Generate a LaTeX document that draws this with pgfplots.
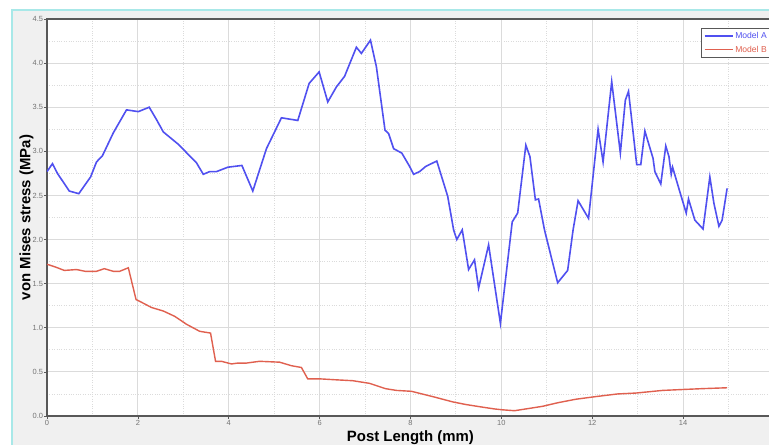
\documentclass[border=0pt]{standalone}
\usepackage{pgfplots}
\pgfplotsset{compat=1.18}
\usepackage{fontspec}
\setmainfont{Liberation Sans}
\newfontfamily\labfont{Liberation Sans}
\definecolor{modelA}{HTML}{5050F0}
\definecolor{modelB}{HTML}{E0604F}
\definecolor{bgc}{HTML}{F0F0F0}
\definecolor{cyanb}{HTML}{A8E8E8}
\definecolor{axc}{HTML}{585858}
\begin{document}
\begin{tikzpicture}
\fill[white] (0bp,0bp) rectangle (769bp,445bp);
\fill[bgc] (12bp,0bp) rectangle (769bp,435bp);
\draw[cyanb, line width=1.5bp] (12bp,0bp) -- (12bp,435bp) -- (769bp,435bp);
\begin{axis}[
  at={(47bp,29bp)}, anchor=south west,
  scale only axis, width=726.9bp, height=397bp,
  xmin=0, xmax=16, ymin=0, ymax=4.5,
  axis background/.style={fill=white},
  xtick={0,2,...,16}, xticklabels={0,2,4,6,8,10,12,14,{}},
  ytick={0,0.5,...,4.5},
  minor x tick num=1, minor y tick num=1,
  grid=both,
  major grid style={draw=gray!28, line width=0.8bp},
  minor grid style={draw=gray!28, dotted, line width=0.8bp},
  axis line style={draw=axc, line width=1.5bp},
  tick style={draw=axc, line width=0.6bp},
  tick align=outside, major tick length=3bp, minor tick length=0bp,
  xtick pos=bottom, ytick pos=left,
  /pgf/number format/assume math mode=true,
  xticklabel style={font=\labfont\fontsize{7.5}{8}\selectfont, text=gray!90!black, inner ysep=1.5bp},
  yticklabel style={font=\labfont\fontsize{7.5}{8}\selectfont, text=gray!90!black, inner xsep=0.8bp,
    /pgf/number format/.cd, fixed, fixed zerofill, precision=1},
  xlabel={Post Length (mm)},
  ylabel={von Mises stress (MPa)},
  xlabel style={font=\bfseries\fontsize{15}{16}\selectfont, at={(axis description cs:0.5,-0.063)}, anchor=base},
  ylabel style={font=\bfseries\fontsize{15}{16}\selectfont, at={(axis description cs:-0.0230,0.5)}, anchor=base},
  legend style={at={(axis description cs:0.8997,0.978)}, anchor=north west,
    draw=axc, line width=0.8bp, fill=white, font=\labfont\fontsize{8.6}{9}\selectfont,
    inner xsep=2.5bp, inner ysep=1bp, row sep=0bp,
    nodes={inner xsep=1.8bp, inner ysep=3bp}},
  legend cell align=left,
]
\addplot[modelA, line width=1.6bp, legend image code/.code={\draw[modelA, line width=1.6bp] (0bp,0bp) -- (28bp,0bp);}] coordinates {
(0,2.77) (0.12,2.86) (0.23,2.75) (0.49,2.55) (0.70,2.52) (0.96,2.71) (1.09,2.88)
(1.22,2.95) (1.46,3.21) (1.75,3.47) (2.01,3.45) (2.25,3.50) (2.41,3.36) (2.56,3.22)
(2.89,3.08) (3.29,2.87) (3.44,2.74) (3.58,2.77) (3.73,2.77) (3.98,2.82) (4.29,2.84)
(4.53,2.55) (4.83,3.03) (5.16,3.38) (5.52,3.35) (5.77,3.77) (5.99,3.90) (6.18,3.56)
(6.37,3.73) (6.55,3.85) (6.81,4.18) (6.92,4.11) (7.12,4.26) (7.25,3.96) (7.44,3.24)
(7.52,3.20) (7.63,3.03) (7.81,2.98) (7.98,2.83) (8.07,2.74) (8.20,2.77) (8.34,2.83)
(8.58,2.89) (8.82,2.49) (8.95,2.11) (9.02,2.00) (9.14,2.11) (9.28,1.66) (9.41,1.77)
(9.50,1.45) (9.72,1.94) (9.98,1.05) (10.24,2.20) (10.36,2.30) (10.54,3.07) (10.63,2.94)
(10.75,2.45) (10.82,2.46) (10.95,2.11) (11.24,1.51) (11.46,1.65) (11.58,2.11) (11.69,2.44)
(11.92,2.24) (12.13,3.25) (12.24,2.88) (12.43,3.79) (12.62,2.98) (12.73,3.58) (12.80,3.68)
(12.98,2.85) (13.07,2.85) (13.16,3.23) (13.34,2.92) (13.38,2.77) (13.51,2.63) (13.62,3.06)
(13.69,2.94) (13.74,2.74) (13.77,2.82) (13.93,2.54) (14.07,2.30) (14.12,2.46) (14.26,2.22)
(14.44,2.12) (14.59,2.71) (14.68,2.41) (14.79,2.15) (14.86,2.22) (14.97,2.58)
};
\addlegendentry{\textcolor{modelA}{Model A}}
\addplot[modelB, line width=1.4bp, legend image code/.code={\draw[modelB, line width=1.4bp] (0bp,0bp) -- (28bp,0bp);}] coordinates {
(0,1.72) (0.18,1.69) (0.38,1.65) (0.65,1.66) (0.84,1.64) (1.09,1.64) (1.26,1.67)
(1.46,1.64) (1.60,1.64) (1.79,1.68) (1.96,1.32) (2.04,1.30) (2.30,1.23) (2.56,1.19)
(2.81,1.13) (3.07,1.04) (3.36,0.96) (3.60,0.94) (3.71,0.62) (3.84,0.62) (4.06,0.59)
(4.20,0.60) (4.39,0.60) (4.68,0.62) (5.12,0.61) (5.38,0.57) (5.60,0.55) (5.74,0.42)
(6.04,0.42) (6.37,0.41) (6.73,0.40) (7.10,0.37) (7.45,0.31) (7.69,0.29) (8.02,0.28)
(8.49,0.22) (8.93,0.16) (9.22,0.13) (9.59,0.10) (9.85,0.08) (10.03,0.07) (10.29,0.06)
(10.54,0.08) (10.91,0.11) (11.24,0.15) (11.64,0.19) (12.08,0.22) (12.56,0.25) (12.96,0.26)
(13.55,0.29) (13.98,0.30) (14.42,0.31) (14.97,0.32)
};
\addlegendentry{\textcolor{modelB}{Model B}}
\end{axis}
\pgfresetboundingbox
\path[use as bounding box] (0bp,0bp) rectangle (769bp,445bp);
\end{tikzpicture}
\end{document}
